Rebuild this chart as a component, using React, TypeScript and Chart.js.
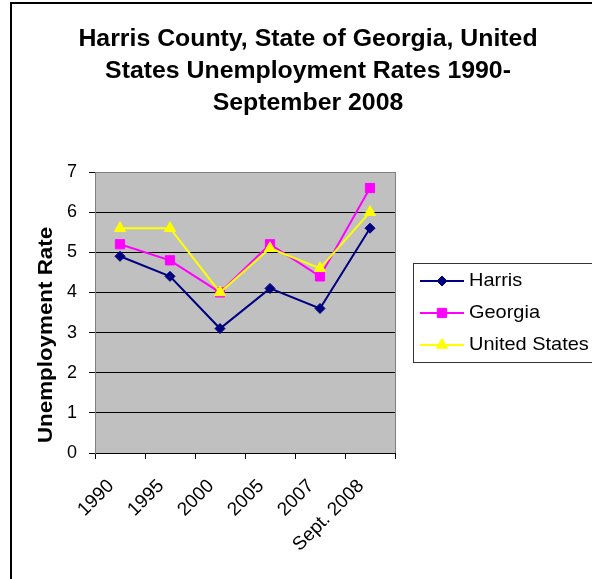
import { useEffect, useRef } from "react";
import { Chart, registerables } from "chart.js";
import { drawPoint } from "chart.js/helpers";

Chart.register(...registerables);

// Unemployment rates (%) by period
const categories = ["1990", "1995", "2000", "2005", "2007", "Sept. 2008"];
const harrisRates = [4.9, 4.4, 3.1, 4.1, 3.6, 5.6];
const georgiaRates = [5.2, 4.8, 4.0, 5.2, 4.4, 6.6];
const unitedStatesRates = [5.6, 5.6, 4.0, 5.1, 4.6, 6.0];

const seriesNames = ["Harris", "Georgia", "United States"];
const seriesColors = ["#000080", "#FF00FF", "#FFFF00"];
const seriesMarkers = ["rectRot", "rect", "triangle"];
const seriesMarkerSizes = [5, 6.5, 6.5];

const titleLines = [
  "Harris County, State of Georgia, United",
  "States Unemployment Rates 1990-",
  "September 2008",
];
const yAxisTitle = "Unemployment Rate";
const yMin = 0;
const yMax = 7;
const yStep = 1;

const W = 592;
const H = 579;
const FONT = "'Liberation Sans', Arial, sans-serif";

// draw text slightly widened, the way the office renderer spaces glyphs
function wideText(ctx: CanvasRenderingContext2D, text: string, x: number, y: number, sx: number) {
  ctx.save();
  ctx.translate(x, y);
  ctx.scale(sx, 1);
  ctx.fillText(text, 0, 0);
  ctx.restore();
}

const decorations = {
  id: "decorations",
  beforeDraw(chart: any) {
    const { ctx, chartArea: a } = chart;
    ctx.save();
    ctx.fillStyle = "#ffffff";
    ctx.fillRect(0, 0, W, H);
    // plot background
    ctx.fillStyle = "#C0C0C0";
    ctx.fillRect(a.left, a.top, a.right - a.left, a.bottom - a.top);
    // chart frame
    ctx.strokeStyle = "#000000";
    ctx.lineWidth = 2;
    ctx.strokeRect(11, 3, W + 40, H + 40);
    ctx.restore();
  },
  afterDraw(chart: any) {
    const { ctx, chartArea: a } = chart;
    ctx.save();

    // right edge of plot area
    ctx.strokeStyle = "#808080";
    ctx.lineWidth = 1;
    ctx.beginPath();
    ctx.moveTo(a.right + 0.5, a.top);
    ctx.lineTo(a.right + 0.5, a.bottom);
    ctx.stroke();

    // title
    ctx.fillStyle = "#000000";
    ctx.font = `bold 23px ${FONT}`;
    ctx.textAlign = "center";
    ctx.textBaseline = "alphabetic";
    titleLines.forEach((line, i) => {
      wideText(ctx, line, 308, 46 + i * 32, 1.08);
    });

    // y axis title
    ctx.save();
    ctx.translate(46, 335);
    ctx.rotate(-Math.PI / 2);
    ctx.font = `bold 21px ${FONT}`;
    ctx.textAlign = "center";
    ctx.textBaseline = "middle";
    wideText(ctx, yAxisTitle, 0, 0, 1.065);
    ctx.restore();

    // legend
    const lx = 413.5;
    const ly = 263.5;
    ctx.strokeStyle = "#333333";
    ctx.lineWidth = 1;
    ctx.strokeRect(lx, ly, 220, 99);
    ctx.font = `19px ${FONT}`;
    ctx.textAlign = "left";
    ctx.textBaseline = "middle";
    seriesNames.forEach((name, i) => {
      const y = 281 + i * 32;
      ctx.strokeStyle = seriesColors[i];
      ctx.lineWidth = 2;
      ctx.beginPath();
      ctx.moveTo(420, y);
      ctx.lineTo(464, y);
      ctx.stroke();
      ctx.fillStyle = seriesColors[i];
      ctx.lineWidth = 1;
      drawPoint(
        ctx,
        { pointStyle: seriesMarkers[i] as any, rotation: 0, radius: seriesMarkerSizes[i], borderWidth: 1 },
        442,
        y
      );
      ctx.fillStyle = "#000000";
      wideText(ctx, name, 469, y, 1.05);
    });

    ctx.restore();
  },
};

export default function App() {
  const canvasRef = useRef<HTMLCanvasElement | null>(null);

  useEffect(() => {
    const canvas = canvasRef.current;
    if (!canvas) return;
    const seriesData = [harrisRates, georgiaRates, unitedStatesRates];
    const chart = new Chart(canvas, {
      type: "line",
      data: {
        labels: categories,
        datasets: seriesNames.map((name, i) => ({
          label: name,
          data: seriesData[i],
          borderColor: seriesColors[i],
          backgroundColor: seriesColors[i],
          borderWidth: 2,
          pointStyle: seriesMarkers[i] as any,
          pointRadius: seriesMarkerSizes[i],
          pointBorderWidth: 1,
          pointBorderColor: seriesColors[i],
          pointBackgroundColor: seriesColors[i],
          tension: 0,
          fill: false,
          order: 2 - i,
        })),
      },
      options: {
        responsive: false,
        maintainAspectRatio: false,
        animation: false,
        devicePixelRatio: 1,
        layout: { padding: { top: 172, right: 197, bottom: 0, left: 0 } },
        plugins: {
          legend: { display: false },
          title: { display: false },
          tooltip: { enabled: false },
        },
        scales: {
          x: {
            type: "category",
            offset: true,
            grid: {
              offset: true,
              drawOnChartArea: false,
              drawTicks: true,
              tickLength: 6,
              tickColor: "#000000",
              color: "#000000",
            },
            border: { display: true, color: "#000000", width: 1 },
            ticks: {
              minRotation: 45,
              maxRotation: 45,
              autoSkip: false,
              padding: 16,
              labelOffset: -9,
              color: "#000000",
              font: { family: FONT, size: 19 },
            },
            afterFit: (scale: any) => {
              scale.height = 126;
            },
          },
          y: {
            min: yMin,
            max: yMax,
            ticks: {
              stepSize: yStep,
              padding: 12,
              color: "#000000",
              font: { family: FONT, size: 18 },
            },
            grid: {
              color: (c: any) => (c.tick && c.tick.value === yMax ? "#808080" : "#000000"),
              lineWidth: 1,
              tickLength: 6,
              tickColor: "#000000",
            },
            border: { display: true, color: "#808080", width: 1 },
            afterFit: (scale: any) => {
              scale.width = 95;
            },
          },
        },
      },
      plugins: [decorations],
    });
    return () => chart.destroy();
  }, []);

  return (
    <div style={{ position: "fixed", left: 0, top: 0, width: W, height: H, overflow: "hidden", background: "#fff" }}>
      <canvas ref={canvasRef} width={W} height={H} style={{ display: "block", width: W, height: H }} />
    </div>
  );
}
